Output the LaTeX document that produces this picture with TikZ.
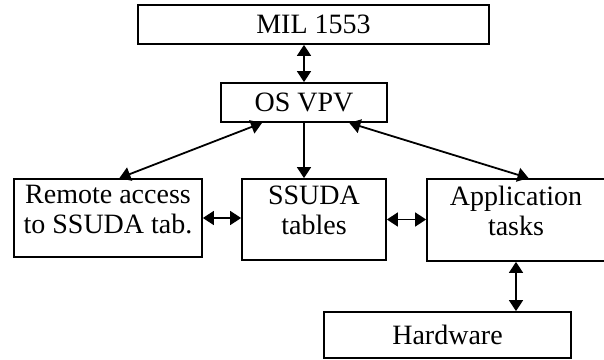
\documentclass[tikz,border=0pt]{standalone}
\usepackage{fontspec}
\setmainfont{Liberation Serif}
\usetikzlibrary{arrows.meta,calc}
\begin{document}
\begin{tikzpicture}[x=1pt, y=1pt,
		box/.style={draw, line width=1.8pt, align=center, inner sep=0pt,
			font=\fontsize{28}{30}\selectfont},
		twoline/.style={text depth=18pt},
		link/.style={{Triangle[length=11pt,width=14pt]}-{Triangle[length=11pt,width=14pt]}, line width=1.8pt}]
	\useasboundingbox (0, 0) rectangle (604, 359);
	\node[box, minimum width=351, minimum height=39] (mil) at (313.5, 334.5) {MIL 1553};
	\node[box, minimum width=166, minimum height=39] (os) at (304, 256.5) {OS VPV};
	\node[box, twoline, minimum width=188, minimum height=78] (remote) at (108, 141) {Remote access\\to SSUDA tab.};
	\node[box, twoline, minimum width=144, minimum height=81] (ssuda) at (314, 139.5) {SSUDA\\tables};
	\node[box, twoline, minimum width=178, minimum height=82] (app) at (516, 139) {Application\\tasks};
	\node[box, minimum width=247, minimum height=46] (hw) at (447.5, 24) {Hardware};
	\draw[link] (os.north) -- (os.north |- mil.south);
	\draw[link] ($(os.south west)!0.25!(os.south east)$) -- ($(remote.north west)!0.56!(remote.north east)$);
	\draw[-{Triangle[length=11pt,width=14pt]}, line width=1.8pt] (os.south) -- (os.south |- ssuda.north);
	\draw[link] ($(os.south west)!0.77!(os.south east)$) -- ($(app.north west)!0.57!(app.north east)$);
	\draw[link] (remote.east) -- (remote.east -| ssuda.west);
	\draw[link] (ssuda.east) -- (ssuda.east -| app.west);
	\draw[link] (app.south) -- (app.south |- hw.north);
\end{tikzpicture}
\end{document}
